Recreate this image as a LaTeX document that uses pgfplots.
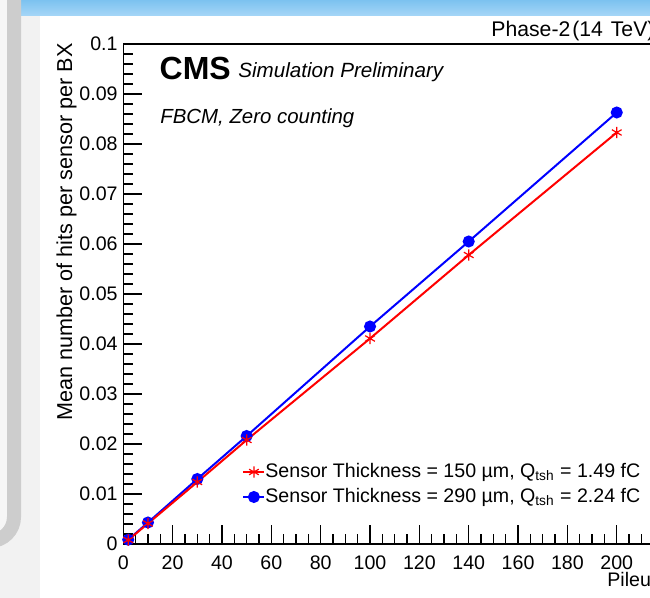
\documentclass[border=0pt]{standalone}
\usepackage{fontspec}
\setmainfont{Liberation Sans}
\usepackage{pgfplots}
\pgfplotsset{compat=1.18}
\definecolor{boxgrey}{HTML}{CDCDCD}
\definecolor{boxin}{HTML}{F6F6F6}
\definecolor{outgrey}{HTML}{F2F2F2}
\definecolor{bluetop}{HTML}{7CC2F0}
\definecolor{bluebot}{HTML}{A6D6F7}
\definecolor{rootred}{HTML}{FF0000}
\definecolor{rootblue}{HTML}{0000FF}
\begin{document}
\begin{tikzpicture}
\useasboundingbox (0,0) rectangle (325pt,-299pt);
\begin{scope}[x=0.5pt,y=-0.5pt]
  \fill[outgrey] (0,0) rectangle (650,598);
  \fill[white] (40,16) rectangle (650,598);
  \shade[top color=bluetop,bottom color=bluebot] (21,0) rectangle (650,16);
  \draw[boxgrey,line width=7pt,fill=boxin,rounded corners=12pt] (-200,-100) rectangle (14,541);
\end{scope}
\begin{axis}[
  at={(61.65pt,-272pt)}, anchor=south west,
  scale only axis, width=271.4pt, height=250pt,
  xmin=0, xmax=220, ymin=0, ymax=0.1,
  axis line style={line width=0.75pt},
  every tick/.style={line width=0.6pt, black},
  tick align=inside,
  xtick pos=bottom, ytick pos=left,
  major tick length=9.5pt, minor tick length=4.8pt,
  xtick={0,20,...,220},
  xticklabels={0,20,40,60,80,100,120,140,160,180,200,{}},
  minor x tick num=3,
  ytick={0,0.01,0.02,0.03,0.04,0.05,0.06,0.07,0.08,0.09,0.1},
  yticklabels={0,0.01,0.02,0.03,0.04,0.05,0.06,0.07,0.08,0.09,0.1},
  minor y tick num=4,
  scaled y ticks=false,
  /pgf/number format/assume math mode=true,
  tick label style={font=\fontsize{9.8}{11}\selectfont},
  yticklabel style={inner sep=0pt, anchor=east, xshift=-2.65pt},
  xticklabel style={inner sep=0pt, anchor=north, yshift=-5.5pt},
  legend cell align=left,
  reverse legend,
  legend image code/.code={\draw[mark repeat=2,mark phase=2,#1] plot coordinates {(0pt,0pt)(5.25pt,0pt)(10.5pt,0pt)};},
  legend style={draw=none, fill=none, at={(0.2187,0.119)}, anchor=west,
    font=\fontsize{9.8}{11}\selectfont, inner sep=0pt, row sep=2pt,
    nodes={inner sep=0pt, text height=8pt, text depth=2.5pt},
    /tikz/every even column/.append style={column sep=3pt}},
]
\addplot[rootblue, line width=1pt, mark=*, mark size=2.5pt, mark options={solid,fill=rootblue}]
  coordinates {(2,0.00086) (10,0.0043) (30,0.0130) (50,0.0216) (100,0.0435) (140,0.0605) (200,0.0863)};
\addlegendentry{Sensor Thickness = 290 µm, Q\textsubscript{tsh} = 2.24 fC}
\addplot[rootred, line width=1pt, mark=asterisk, mark size=2.8pt, mark options={solid,line width=0.6pt}]
  coordinates {(2,0.0008) (10,0.0041) (30,0.0124) (50,0.0208) (100,0.0411) (140,0.0578) (200,0.0823)};
\addlegendentry{Sensor Thickness = 150 µm, Q\textsubscript{tsh} = 1.49 fC}
\end{axis}
\begin{scope}[x=0.5pt,y=-0.5pt]
  \node[anchor=base east, rotate=90, inner sep=0pt, font=\fontsize{10.8}{12}\selectfont] at (72,43) {Mean number of hits per sensor per BX};
  \node[anchor=base west, inner sep=0pt, font=\fontsize{9.8}{11}\selectfont] at (607,586.7) {Pileup};
  \node[anchor=base west, inner sep=0pt, font=\fontsize{10.6}{12}\selectfont] at (491,36.5) {Phase-2\hspace{1pt}(14\hspace{1pt} TeV)};
  \node[anchor=base west, inner sep=0pt, font=\fontsize{16}{18}\bfseries\selectfont] at (159.3,80) {CMS};
  \node[anchor=base west, inner sep=0pt, font=\fontsize{10.3}{12}\itshape\selectfont] at (238,78) {Simulation Preliminary};
  \node[anchor=base west, inner sep=0pt, font=\fontsize{10.2}{12}\itshape\selectfont] at (160,123.3) {FBCM, Zero counting};
\end{scope}
\end{tikzpicture}
\end{document}
